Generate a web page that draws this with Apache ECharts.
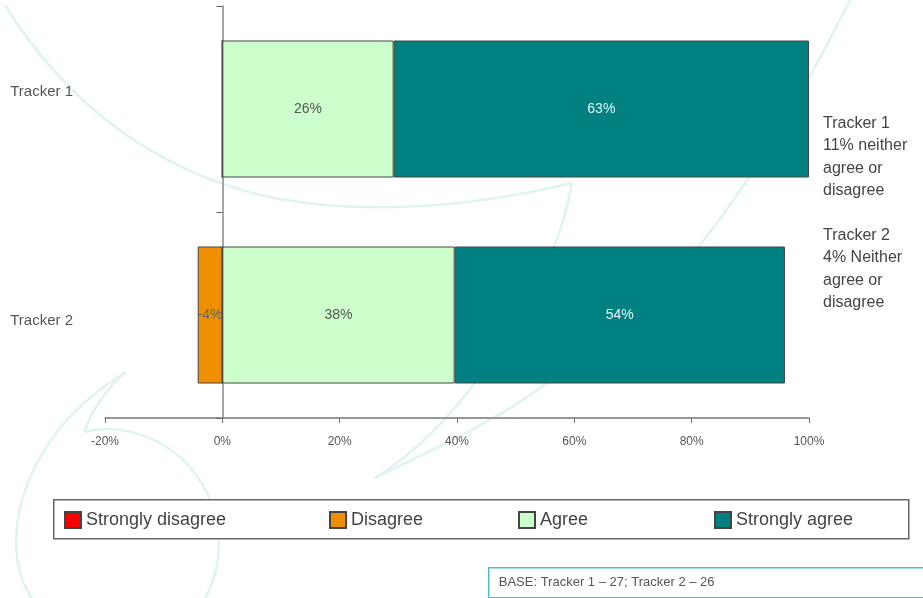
<!DOCTYPE html>
<html>
<head>
<meta charset="utf-8">
<script src="https://cdn.jsdelivr.net/npm/echarts@6/dist/echarts.min.js"></script>
<style>
  html, body { margin: 0; padding: 0; background: #fff; }
  #chart { width: 923px; height: 598px; }
</style>
</head>
<body>
<div id="chart"></div>
<script>
const categories = ["Tracker 1", "Tracker 2"];
const seriesNames = ["Strongly disagree", "Disagree", "Agree", "Strongly agree"];

// bar lengths as drawn (share of respondents who gave an opinion)
const stronglyDisagree = [0, 0];
const disagree = [0, -4.2];
const agree = [29.2, 39.6];
const stronglyAgree = [70.8, 56.3];

// percentages printed inside the bars
const disagreeLabels = ["", "-4%"];
const agreeLabels = ["26%", "38%"];
const stronglyAgreeLabels = ["63%", "54%"];

const xMin = -20;
const xMax = 100;
const xStep = 20;

const neitherNotes = [
  "Tracker 1\n11% neither\nagree or\ndisagree",
  "Tracker 2\n4% Neither\nagree or\ndisagree",
];
const baseNote = "BASE: Tracker 1 \u2013 27; Tracker 2 \u2013 26";

const font = "'Liberation Sans', Arial, sans-serif";
const colors = ["#ff0000", "#ef9000", "#ccffcc", "#008080"];
const legendLefts = [64, 329, 518, 714];

// faint background swoosh, as cubic curves [x1, y1, cpx1, cpy1, cpx2, cpy2, x2, y2]
const swirl = "#e0f2f2";
const swirlCurves = [
  [5, 5, 70, 110, 160, 170, 260, 195],
  [260, 195, 350, 215, 460, 210, 572, 183],
  [572, 183, 568, 205, 562, 225, 557, 240],
  [557, 240, 530, 300, 500, 350, 474, 384],
  [474, 384, 450, 415, 420, 450, 375, 478],
  [375, 478, 420, 455, 500, 420, 545, 384],
  [545, 384, 600, 340, 660, 290, 700, 245],
  [700, 245, 760, 170, 810, 80, 850, 0],
  [126, 372, 80, 400, 40, 440, 22, 500],
  [22, 500, 10, 545, 18, 580, 32, 598],
  [126, 372, 105, 390, 92, 410, 84, 432],
  [84, 432, 130, 420, 190, 445, 212, 505],
  [212, 505, 225, 545, 218, 575, 205, 598],
];

const chart = echarts.init(document.getElementById("chart"));

const barSeries = (name, data, color, labels, labelColor) => ({
  name,
  type: "bar",
  stack: "total",
  barWidth: 137,
  data,
  itemStyle: { color, borderColor: "#444", borderWidth: 1 },
  label: {
    show: !!labels,
    position: "inside",
    color: labelColor,
    fontSize: 14,
    formatter: (p) => (labels ? labels[p.dataIndex] : ""),
  },
});

const option = {
  backgroundColor: "#fff",
  animation: false,
  textStyle: { fontFamily: font },
  grid: { left: 105, right: 114, top: 6, bottom: 180, containLabel: false, outerBoundsMode: "none" },
  legend: seriesNames.map((name, i) => ({
    left: legendLefts[i],
    top: 511,
    padding: 0,
    itemWidth: 16,
    itemHeight: 16,
    icon: "rect",
    data: [name],
    textStyle: { fontSize: 18, color: "#444", fontFamily: font },
  })),
  xAxis: {
    type: "value",
    min: xMin,
    max: xMax,
    interval: xStep,
    splitLine: { show: false },
    axisLine: { show: true, lineStyle: { color: "#777", width: 1.5 } },
    axisTick: { show: true, length: 5, lineStyle: { color: "#777" } },
    axisLabel: { color: "#555", fontSize: 12, margin: 18, formatter: "{value}%" },
  },
  yAxis: {
    type: "category",
    inverse: true,
    data: categories,
    axisLine: { show: true, onZero: true, lineStyle: { color: "#888", width: 1.5 } },
    axisTick: { show: true, length: 6, lineStyle: { color: "#666" } },
    axisLabel: {
      margin: 32,
      color: "#555",
      fontSize: 15,
      formatter: (v, i) => (i === 0 ? "{up|" + v + "}" : "{down|" + v + "}"),
      rich: {
        up: { fontSize: 15, color: "#555", padding: [0, 0, 34, 0] },
        down: { fontSize: 15, color: "#555", padding: [12, 0, 0, 0] },
      },
    },
  },
  graphic: [
    ...swirlCurves.map((c) => ({
      type: "bezierCurve",
      z: -10,
      silent: true,
      shape: { x1: c[0], y1: c[1], cpx1: c[2], cpy1: c[3], cpx2: c[4], cpy2: c[5], x2: c[6], y2: c[7] },
      style: { fill: null, stroke: swirl, lineWidth: 2.5 },
    })),
    {
      type: "rect",
      left: 53,
      top: 499,
      z: -5,
      shape: { x: 0, y: 0, width: 855, height: 39 },
      style: { fill: "#fff", stroke: "#666", lineWidth: 1.5 },
    },
    {
      type: "text",
      left: 823,
      top: 112,
      style: { text: neitherNotes[0], fontSize: 16, lineHeight: 22.5, fill: "#444", fontFamily: font },
    },
    {
      type: "text",
      left: 823,
      top: 224,
      style: { text: neitherNotes[1], fontSize: 16, lineHeight: 22.5, fill: "#444", fontFamily: font },
    },
    {
      type: "group",
      left: 488,
      top: 567,
      children: [
        {
          type: "rect",
          shape: { x: 0, y: 0, width: 450, height: 30 },
          style: { fill: "#fff", stroke: "#4bbfc8", lineWidth: 1.5 },
        },
        {
          type: "text",
          x: 10,
          y: 15,
          style: { text: baseNote, fontSize: 13, fill: "#555", fontFamily: font, verticalAlign: "middle" },
        },
      ],
    },
  ],
  series: [
    barSeries(seriesNames[0], stronglyDisagree, colors[0], null, "#666"),
    barSeries(seriesNames[1], disagree, colors[1], disagreeLabels, "#666"),
    barSeries(seriesNames[2], agree, colors[2], agreeLabels, "#555"),
    barSeries(seriesNames[3], stronglyAgree, colors[3], stronglyAgreeLabels, "#e6f5f5"),
  ],
};

chart.setOption(option);
</script>
</body>
</html>
